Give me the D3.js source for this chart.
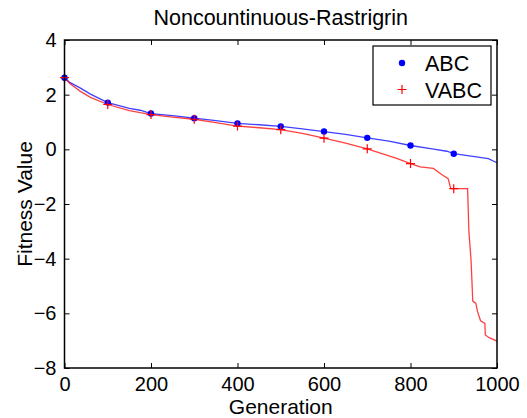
<!DOCTYPE html>
<html>
<head>
<meta charset="utf-8">
<script src="https://cdn.jsdelivr.net/npm/d3@7"></script>
<style>
  body { margin: 0; background: #fff; }
  svg text { font-family: "Liberation Sans", Arial, sans-serif; fill: #000; }
</style>
</head>
<body>
<svg id="chart" width="527" height="418"></svg>
<script>
// values
const abcGen = [0, 13, 36, 60, 100, 150, 175, 200, 250, 300, 350, 400, 450, 500, 550, 600, 650, 700, 750, 800, 850, 884, 900, 940, 980, 1000];
const abcVal = [2.62, 2.44, 2.25, 2.02, 1.71, 1.50, 1.43, 1.31, 1.23, 1.14, 1.05, 0.95, 0.90, 0.84, 0.75, 0.65, 0.55, 0.42, 0.30, 0.14, 0.02, -0.07, -0.16, -0.25, -0.34, -0.49];

const vabcGen = [0, 13, 36, 60, 100, 150, 175, 200, 250, 300, 350, 400, 450, 500, 550, 600, 650, 700, 768, 800, 822, 853, 872, 887, 893, 900, 932, 935, 940, 944, 951, 955, 962, 972, 973, 982, 1000];
const vabcVal = [2.62, 2.40, 2.13, 1.90, 1.64, 1.42, 1.34, 1.27, 1.18, 1.10, 0.98, 0.85, 0.79, 0.72, 0.58, 0.41, 0.23, 0.02, -0.33, -0.52, -0.64, -0.70, -0.92, -1.07, -1.43, -1.44, -1.44, -3.01, -4.05, -5.55, -5.63, -5.94, -6.27, -6.37, -6.79, -6.89, -7.02];

const markerGens = [0, 100, 200, 300, 400, 500, 600, 700, 800, 900];
const xTicks = [0, 200, 400, 600, 800, 1000];
const yTicks = [-8, -6, -4, -2, 0, 2, 4];
const seriesNames = ['ABC', 'VABC'];

const svg = d3.select('#chart');
const M = { left: 64.5, right: 497, top: 40, bottom: 368 };

const x = d3.scaleLinear().domain([0, 1000]).range([M.left, M.right]);
const y = d3.scaleLinear().domain([-8, 4]).range([M.bottom, M.top]);

const abc = abcGen.map((g, i) => ({ g: g, v: abcVal[i] }));
const vabc = vabcGen.map((g, i) => ({ g: g, v: vabcVal[i] }));

const line = d3.line().x(d => x(d.g)).y(d => y(d.v));

svg.append('path').datum(abc)
    .attr('d', line).attr('fill', 'none')
    .attr('stroke', '#0000ff').attr('stroke-width', 1.3).attr('stroke-opacity', 0.75)
svg.append('path').datum(vabc)
    .attr('d', line).attr('fill', 'none')
    .attr('stroke', '#ff0000').attr('stroke-width', 1.3).attr('stroke-opacity', 0.75)

// markers every 100 generations
svg.append('g').selectAll('circle')
    .data(abc.filter(d => markerGens.includes(d.g)))
    .join('circle')
    .attr('cx', d => x(d.g)).attr('cy', d => y(d.v))
    .attr('r', 3.2).attr('fill', '#0000ff')

const plus = (px, py, s) => `M${px - s},${py}H${px + s}M${px},${py - s}V${py + s}`;
svg.append('g').selectAll('path')
    .data(vabc.filter(d => markerGens.includes(d.g)))
    .join('path')
    .attr('d', d => plus(x(d.g), y(d.v), 4.5))
    .attr('stroke', '#ff0000').attr('stroke-width', 1.2).attr('fill', 'none')

// axes: inside ticks on all four sides, box on
const xAxisB = d3.axisBottom(x).tickValues(xTicks).tickFormat(d3.format('d')).tickSizeInner(-5).tickSizeOuter(0).tickPadding(9);
const xAxisT = d3.axisTop(x).tickValues(xTicks).tickSizeInner(-5).tickSizeOuter(0).tickFormat('');
const yAxisL = d3.axisLeft(y).tickValues(yTicks).tickSizeInner(-5).tickSizeOuter(0).tickPadding(8);
const yAxisR = d3.axisRight(y).tickValues(yTicks).tickSizeInner(-5).tickSizeOuter(0).tickFormat('');

const gB = svg.append('g').attr('transform', `translate(0,${M.bottom})`).call(xAxisB);
const gT = svg.append('g').attr('transform', `translate(0,${M.top})`).call(xAxisT);
const gL = svg.append('g').attr('transform', `translate(${M.left},0)`).call(yAxisL);
const gR = svg.append('g').attr('transform', `translate(${M.right},0)`).call(yAxisR);

[gB, gT, gL, gR].forEach(g => {
    g.select('.domain').remove();
    g.selectAll('line').attr('stroke', '#000');
    g.selectAll('text').style('font-size', '20px').attr('fill', '#000');
});
gB.selectAll('text').attr('dy', '0.71em');

svg.append('rect')
    .attr('x', M.left).attr('y', M.top)
    .attr('width', M.right - M.left).attr('height', M.bottom - M.top)
    .attr('fill', 'none').attr('stroke', '#000').attr('stroke-width', 1.5)

svg.append('text')
    .attr('x', (M.left + M.right) / 2).attr('y', 25)
    .attr('text-anchor', 'middle').style('font-size', '21.5px')
    .text('Noncountinuous-Rastrigrin')

svg.append('text')
    .attr('x', (M.left + M.right) / 2).attr('y', 414)
    .attr('text-anchor', 'middle').style('font-size', '21px')
    .text('Generation')

svg.append('text')
    .attr('transform', `translate(32, ${(M.top + M.bottom) / 2}) rotate(-90)`)
    .attr('text-anchor', 'middle').style('font-size', '21px')
    .text('Fitness Value')

// legend
const lg = svg.append('g');
lg.append('rect')
    .attr('x', 373).attr('y', 46).attr('width', 118).attr('height', 59)
    .attr('fill', '#fff').attr('stroke', '#000').attr('stroke-width', 1.2)
lg.append('circle').attr('cx', 402).attr('cy', 63).attr('r', 3.2).attr('fill', '#0000ff')
lg.append('path').attr('d', plus(402, 89.5, 4.5)).attr('stroke', '#ff0000').attr('stroke-width', 1.2)
lg.selectAll('text.lab')
    .data(seriesNames)
    .join('text')
    .attr('class', 'lab')
    .attr('x', 425).attr('y', (d, i) => 70.5 + i * 27)
    .style('font-size', '21.5px')
    .text(d => d)
</script>
</body>
</html>
